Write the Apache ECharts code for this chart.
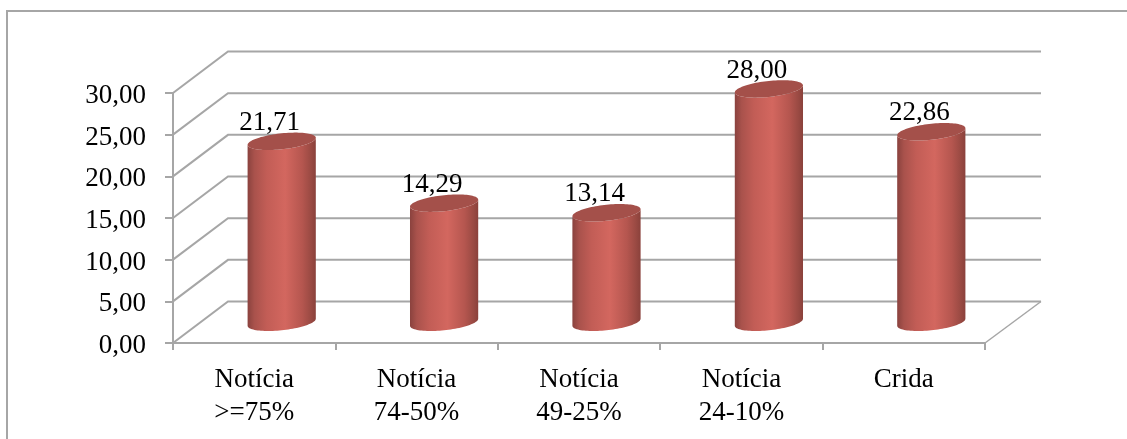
<!DOCTYPE html>
<html>
<head>
<meta charset="utf-8">
<style>html,body{margin:0;padding:0;background:#fff;overflow:hidden}#c{width:1127px;height:439px}</style>
<script src="https://cdn.jsdelivr.net/npm/echarts@6/dist/echarts.min.js"></script>
</head>
<body>
<div id="c"></div>
<script>
const categories = ['Notícia\n>=75%', 'Notícia\n74-50%', 'Notícia\n49-25%', 'Notícia\n24-10%', 'Crida'];
const values = [21.71, 14.29, 13.14, 28.00, 22.86];
const wallTicks = [0, 5, 10, 15, 20, 25, 30];

const FONT = '"Liberation Serif", serif';
const GREY = '#a6a6a6';
const DEPTH_X = 55, DEPTH_Y = 41.5;
const comma = v => Number(v).toFixed(2).replace('.', ',');

function ellipsePoints(cx, cy, a, b, k, from, to, n) {
  const pts = [];
  for (let i = 0; i <= n; i++) {
    const t = from + (to - from) * i / n;
    pts.push([cx + a * Math.cos(t), cy + b * Math.sin(t) - k * Math.cos(t)]);
  }
  return pts;
}

const chart = echarts.init(document.getElementById('c'), null, {renderer: 'canvas'});
chart.setOption({
  animation: false,
  backgroundColor: '#fff',
  graphic: [
    {type: 'rect', silent: true, z: 0,
     shape: {x: 7, y: 11, width: 1140, height: 460},
     style: {fill: 'none', stroke: GREY, lineWidth: 2}}
  ],
  grid: {left: 173, right: 142, top: 93, bottom: 96, containLabel: false},
  xAxis: {
    type: 'category',
    data: categories,
    axisLine: {lineStyle: {color: GREY, width: 2}},
    axisTick: {show: true, length: 7, alignWithLabel: false, lineStyle: {color: GREY, width: 2}},
    splitLine: {show: false},
    axisLabel: {fontFamily: FONT, fontSize: 27, color: '#000', lineHeight: 33, margin: 20, interval: 0, hideOverlap: false}
  },
  yAxis: {
    type: 'value',
    min: 0, max: 30, interval: 5,
    axisLine: {show: true, lineStyle: {color: GREY, width: 2}},
    axisTick: {show: true, length: 8, lineStyle: {color: GREY, width: 2}},
    splitLine: {show: false},
    axisLabel: {fontFamily: FONT, fontSize: 27, color: '#000', margin: 27, verticalAlign: 'top', lineHeight: 6, formatter: comma}
  },
  series: [
    {
      type: 'custom', z: 1, silent: true,
      coordinateSystem: 'cartesian2d',
      data: wallTicks.map(v => [0, v]),
      encode: {x: 0, y: 1},
      renderItem(params, api) {
        const v = api.value(1);
        const cs = params.coordSys;
        const y = api.coord([0, v])[1];
        const x0 = cs.x, x1 = cs.x + cs.width;
        const style = {stroke: GREY, lineWidth: 2, fill: 'none'};
        const kids = [
          {type: 'polyline', shape: {points: [[x0, y], [x0 + DEPTH_X, y - DEPTH_Y], [x1 + DEPTH_X + 1, y - DEPTH_Y]]}, style}
        ];
        if (v === 0) {
          kids.push({type: 'line', shape: {x1: x1, y1: y, x2: x1 + DEPTH_X + 1, y2: y - DEPTH_Y}, style: {stroke: GREY, lineWidth: 1.5}});
        }
        return {type: 'group', children: kids};
      }
    },
    {
      type: 'custom', z: 3, silent: true,
      coordinateSystem: 'cartesian2d',
      data: values.map((v, i) => [i, v]),
      encode: {x: 0, y: 1},
      renderItem(params, api) {
        const i = api.value(0), v = api.value(1);
        const band = api.size([1, 0])[0];
        const a = band * 0.21, b = 8, k = 3.5;
        const base = api.coord([i, 0]);
        const top = api.coord([i, v]);
        const ox = DEPTH_X / 2, oy = DEPTH_Y / 2;
        const cx = base[0] + ox, yb = base[1] - oy, yt = top[1] - oy;
        const body = [[cx + a, yt - k]]
          .concat(ellipsePoints(cx, yb, a, b, k, 0, Math.PI, 48))
          .concat(ellipsePoints(cx, yt, a, b, k, Math.PI, 0, 48));
        const cap = ellipsePoints(cx, yt, a, b, k, 0, Math.PI * 2, 96);
        return {
          type: 'group',
          children: [
            {type: 'polygon', shape: {points: body}, style: {
              fill: {type: 'linear', x: 0, y: 0, x2: 1, y2: 0, colorStops: [
                {offset: 0, color: '#8a423e'},
                {offset: 0.1, color: '#a9524c'},
                {offset: 0.28, color: '#c25d56'},
                {offset: 0.55, color: '#d3675f'},
                {offset: 0.8, color: '#b5564f'},
                {offset: 0.93, color: '#9a4a43'},
                {offset: 1, color: '#8a413b'}
              ]}
            }},
            {type: 'polygon', shape: {points: cap}, style: {fill: '#a4504a'}},
            {type: 'text', z2: 10, style: {
              x: cx - 12, y: yt - 18.5,
              text: comma(v),
              fontFamily: FONT, fontSize: 27, fill: '#000',
              align: 'center', verticalAlign: 'middle'
            }}
          ]
        };
      }
    }
  ]
});
</script>
</body>
</html>
